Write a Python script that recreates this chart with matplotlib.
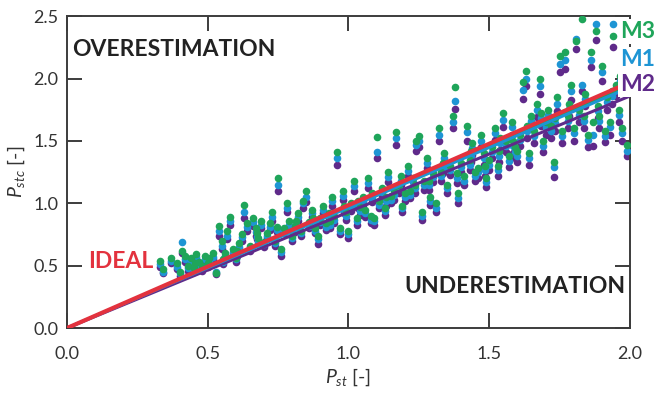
import matplotlib
matplotlib.use("Agg")
import matplotlib.pyplot as plt

plt.rcParams['font.family'] = ['Lato', 'DejaVu Sans']
plt.rcParams['mathtext.fontset'] = 'custom'
plt.rcParams['mathtext.rm'] = 'Lato'
plt.rcParams['mathtext.it'] = 'Lato:italic'

# Pst measured vs. Pstc computed by the three models
p_st = [0.33, 0.34, 0.37, 0.39, 0.40, 0.41, 0.42, 0.43, 0.44, 0.45, 0.46, 0.47, 0.48, 0.49, 0.50,
        0.52, 0.53, 0.54, 0.55, 0.56, 0.57, 0.58, 0.59, 0.60, 0.61, 0.62, 0.63, 0.64, 0.65, 0.66,
        0.67, 0.68, 0.69, 0.70, 0.71, 0.72, 0.73, 0.74, 0.75, 0.76, 0.77, 0.78, 0.79, 0.80, 0.81,
        0.82, 0.83, 0.84, 0.85, 0.86, 0.87, 0.88, 0.89, 0.90, 0.91, 0.92, 0.93, 0.94, 0.95, 0.96,
        0.97, 0.98, 0.99, 1.00, 1.01, 1.02, 1.03, 1.04, 1.05, 1.06, 1.07, 1.08, 1.09, 1.10, 1.11,
        1.12, 1.13, 1.14, 1.15, 1.16, 1.17, 1.18, 1.19, 1.20, 1.21, 1.22, 1.23, 1.24, 1.25, 1.26,
        1.27, 1.28, 1.29, 1.30, 1.31, 1.32, 1.33, 1.34, 1.35, 1.36, 1.37, 1.38, 1.39, 1.40, 1.41,
        1.42, 1.43, 1.44, 1.45, 1.46, 1.47, 1.48, 1.49, 1.50, 1.51, 1.52, 1.53, 1.54, 1.55, 1.56,
        1.57, 1.58, 1.59, 1.60, 1.61, 1.62, 1.63, 1.64, 1.65, 1.66, 1.67, 1.68, 1.69, 1.70, 1.71,
        1.72, 1.73, 1.74, 1.75, 1.76, 1.77, 1.78, 1.79, 1.80, 1.81, 1.82, 1.83, 1.84, 1.85, 1.86,
        1.87, 1.88, 1.89, 1.90, 1.91, 1.92, 1.93, 1.94, 1.95, 1.96, 1.97, 1.99, 1.965,
        0.605, 0.675, 0.745, 0.815, 0.875, 0.935, 0.985, 1.035, 1.085, 1.135, 1.185, 1.235, 1.285,
        1.335, 1.385, 1.435, 1.485, 1.535, 1.585, 1.635, 1.685, 1.735, 1.785, 1.835, 1.885, 1.935,
        1.975, 0.555, 0.505, 0.455]

m3 = [0.54, 0.47, 0.56, 0.52, 0.45, 0.62, 0.58, 0.50, 0.56, 0.48, 0.59, 0.53, 0.50, 0.58, 0.52,
      0.60, 0.44, 0.82, 0.70, 0.60, 0.78, 0.89, 0.63, 0.56, 0.68, 0.75, 0.99, 0.84, 0.66, 0.88,
      0.80, 0.72, 0.86, 0.69, 0.76, 0.84, 0.93, 0.70, 1.20, 0.63, 0.80, 1.00, 0.86, 0.74, 0.82,
      0.92, 0.78, 1.02, 1.10, 0.85, 0.95, 0.80, 0.74, 0.88, 0.98, 0.84, 0.92, 1.05, 0.90, 1.41,
      0.80, 1.10, 0.93, 0.78, 1.00, 1.18, 0.88, 0.97, 1.05, 0.95, 1.20, 0.90, 0.88, 1.53, 1.02,
      1.12, 0.96, 1.25, 1.06, 1.10, 1.57, 1.15, 0.98, 1.08, 1.30, 1.10, 1.20, 1.50, 1.54, 0.93,
      1.18, 1.36, 1.05, 1.24, 1.00, 1.60, 1.25, 1.40, 1.15, 1.30, 1.70, 1.93, 1.08, 1.32, 1.22,
      1.62, 1.35, 1.48, 1.25, 1.28, 1.55, 1.40, 1.20, 1.35, 1.45, 1.60, 1.30, 1.52, 1.72, 1.50,
      1.38, 1.65, 1.45, 1.42, 1.55, 1.97, 2.06, 1.40, 1.70, 1.58, 1.80, 2.00, 1.50, 1.65, 1.75,
      1.62, 1.33, 1.85, 2.18, 1.58, 2.21, 1.70, 1.95, 1.60, 2.30, 1.75, 2.48, 1.88, 1.55, 2.21,
      1.65, 2.38, 1.70, 2.10, 1.58, 1.85, 1.65, 2.34, 1.95, 1.75, 1.60, 1.47, 2.02,
      0.62, 0.76, 0.81, 0.86, 0.88, 0.86, 0.98, 1.02, 1.08, 1.05, 1.22, 1.15, 1.18,
      1.32, 1.24, 1.42, 1.30, 1.42, 1.50, 1.62, 1.72, 1.68, 1.80, 1.70, 1.78, 1.90,
      2.05, 0.55, 0.56, 0.52]

m1 = [0.51, 0.45, 0.54, 0.49, 0.44, 0.69, 0.55, 0.48, 0.53, 0.46, 0.57, 0.50, 0.48, 0.55, 0.50,
      0.57, 0.45, 0.78, 0.66, 0.58, 0.74, 0.86, 0.61, 0.55, 0.65, 0.73, 0.93, 0.81, 0.64, 0.85,
      0.77, 0.70, 0.83, 0.67, 0.74, 0.81, 0.89, 0.68, 1.15, 0.61, 0.78, 0.96, 0.83, 0.72, 0.80,
      0.89, 0.76, 1.00, 1.05, 0.82, 0.92, 0.78, 0.71, 0.85, 0.95, 0.81, 0.90, 1.02, 0.87, 1.36,
      0.78, 1.06, 0.90, 0.75, 0.97, 1.14, 0.86, 0.94, 1.02, 0.92, 1.16, 0.87, 0.86, 1.41, 0.99,
      1.09, 0.94, 1.21, 1.03, 1.07, 1.52, 1.12, 0.96, 1.05, 1.26, 1.07, 1.17, 1.47, 1.50, 0.90,
      1.15, 1.32, 1.02, 1.21, 0.96, 1.55, 1.22, 1.36, 1.12, 1.27, 1.65, 1.82, 1.04, 1.29, 1.18,
      1.57, 1.31, 1.44, 1.22, 1.25, 1.50, 1.36, 1.17, 1.31, 1.41, 1.56, 1.27, 1.48, 1.67, 1.46,
      1.34, 1.61, 1.41, 1.38, 1.51, 1.91, 2.00, 1.36, 1.66, 1.54, 1.75, 1.94, 1.46, 1.61, 1.71,
      1.58, 1.29, 1.80, 2.12, 1.54, 2.15, 1.66, 1.90, 1.56, 2.32, 1.71, 1.95, 1.84, 1.51, 2.15,
      1.55, 2.44, 1.66, 2.05, 1.54, 1.81, 1.61, 2.44, 1.91, 1.71, 1.56, 1.42, 1.98,
      0.60, 0.73, 0.79, 0.83, 0.85, 0.83, 0.95, 0.99, 1.04, 1.02, 1.18, 1.12, 1.15,
      1.28, 1.20, 1.38, 1.27, 1.38, 1.46, 1.58, 1.68, 1.64, 1.76, 1.66, 1.74, 1.86,
      2.00, 0.53, 0.54, 0.50]

m2 = [0.49, 0.44, 0.52, 0.47, 0.42, 0.60, 0.53, 0.46, 0.51, 0.45, 0.55, 0.48, 0.46, 0.53, 0.49,
      0.55, 0.43, 0.74, 0.63, 0.56, 0.71, 0.83, 0.59, 0.53, 0.63, 0.70, 0.88, 0.78, 0.62, 0.82,
      0.74, 0.68, 0.80, 0.65, 0.72, 0.79, 0.86, 0.66, 1.10, 0.58, 0.76, 0.93, 0.81, 0.70, 0.77,
      0.86, 0.74, 0.96, 1.01, 0.80, 0.89, 0.76, 0.67, 0.83, 0.92, 0.79, 0.87, 0.98, 0.84, 1.31,
      0.75, 1.03, 0.87, 0.72, 0.94, 1.10, 0.83, 0.91, 0.99, 0.89, 1.12, 0.84, 0.83, 1.36, 0.96,
      1.05, 0.91, 1.17, 1.00, 1.03, 1.47, 1.08, 0.93, 1.02, 1.22, 1.04, 1.13, 1.42, 1.45, 0.87,
      1.11, 1.28, 0.99, 1.17, 0.93, 1.50, 1.18, 1.32, 1.08, 1.23, 1.60, 1.76, 1.00, 1.25, 1.15,
      1.50, 1.27, 1.39, 1.18, 1.20, 1.45, 1.31, 1.13, 1.27, 1.36, 1.51, 1.22, 1.43, 1.61, 1.41,
      1.29, 1.55, 1.36, 1.33, 1.46, 1.84, 1.94, 1.31, 1.60, 1.48, 1.69, 1.88, 1.41, 1.55, 1.65,
      1.52, 1.21, 1.74, 2.05, 1.48, 2.08, 1.60, 1.83, 1.50, 2.24, 1.65, 1.90, 1.78, 1.45, 2.09,
      1.46, 2.31, 1.60, 1.98, 1.49, 1.75, 1.55, 2.25, 1.86, 1.65, 1.50, 1.38, 1.92,
      0.58, 0.71, 0.77, 0.81, 0.82, 0.80, 0.92, 0.96, 1.01, 0.98, 1.15, 1.08, 1.11,
      1.24, 1.16, 1.33, 1.22, 1.33, 1.40, 1.52, 1.62, 1.58, 1.70, 1.60, 1.68, 1.80,
      1.94, 0.51, 0.52, 0.48]

# regression lines through origin, end value at Pst = 2.0
line_x = [0.0, 2.0]
ideal_y = [0.0, 1.97]
m1_fit = [0.0, 1.93]
m2_fit = [0.0, 1.86]
m3_fit = [0.0, 1.95]

c_m1 = '#1e95d4'
c_m2 = '#5f2a8a'
c_m3 = '#1fa55a'
c_ideal = '#e3323e'
c_axis = '#3c3c3c'

fig = plt.figure(figsize=(6.58, 4.05), dpi=100)
ax = fig.add_axes([0.1018, 0.19, 0.8556, 0.77])

ax.scatter(p_st, m2, s=30, color=c_m2, lw=0, zorder=2)
ax.scatter(p_st, m1, s=30, color=c_m1, lw=0, zorder=3)
ax.scatter(p_st, m3, s=30, color=c_m3, lw=0, zorder=4)

ax.plot(line_x, m3_fit, color=c_m3, lw=2, zorder=5)
ax.plot(line_x, m2_fit, color=c_m2, lw=2.2, zorder=6)
ax.plot(line_x, m1_fit, color=c_m1, lw=2.2, zorder=7)
ax.plot(line_x, ideal_y, color=c_ideal, lw=3, zorder=8)

ax.set_xlim(0, 2.0)
ax.set_ylim(0, 2.5)
ax.set_xticks([0.0, 0.5, 1.0, 1.5, 2.0])
ax.set_yticks([0.0, 0.5, 1.0, 1.5, 2.0, 2.5])
ax.set_xticklabels(['0.0', '0.5', '1.0', '1.5', '2.0'])
ax.set_yticklabels(['0.0', '0.5', '1.0', '1.5', '2.0', '2.5'])
ax.tick_params(direction='in', length=11, width=1.4, color=c_axis, labelcolor='#333333',
               labelsize=13, top=True, right=True)
ax.tick_params(axis='x', pad=13)
ax.tick_params(axis='y', pad=6)
for sp in ax.spines.values():
    sp.set_color(c_axis)
    sp.set_linewidth(1.4)

ax.set_xlabel('$P_{st}$ [-]', fontsize=14, color='#333333', labelpad=3)
ax.set_ylabel('$P_{stc}$ [-]', fontsize=14, color='#333333', labelpad=5)

box = dict(facecolor='white', edgecolor='none', pad=1.5)
ax.text(0.02, 2.23, 'OVERESTIMATION', fontsize=16.5, fontweight='bold', color='#222222',
        va='center', ha='left', bbox=box, zorder=10)
ax.text(1.985, 0.33, 'UNDERESTIMATION', fontsize=16.5, fontweight='bold', color='#222222',
        va='center', ha='right', bbox=box, zorder=10)
ax.text(0.075, 0.53, 'IDEAL', fontsize=16.5, fontweight='bold', color=c_ideal,
        va='center', ha='left', bbox=box, zorder=10)
ax.text(1.965, 2.38, 'M3', fontsize=16.5, fontweight='bold', color=c_m3,
        va='center', ha='left', bbox=box, zorder=10, clip_on=False)
ax.text(1.965, 2.15, 'M1', fontsize=16.5, fontweight='bold', color=c_m1,
        va='center', ha='left', bbox=box, zorder=10, clip_on=False)
ax.text(1.965, 1.95, 'M2', fontsize=16.5, fontweight='bold', color=c_m2,
        va='center', ha='left', bbox=box, zorder=10, clip_on=False)

fig.savefig('out.png', dpi=100)
